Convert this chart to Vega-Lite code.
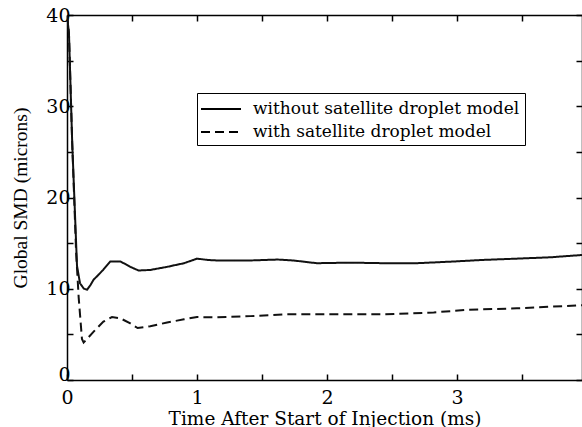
{
  "$schema": "https://vega.github.io/schema/vega-lite/v6.json",
  "autosize": "none",
  "width": 515,
  "height": 365,
  "padding": {"left": 67, "top": 15, "right": 0, "bottom": 47},
  "background": "white",
  "config": {
    "view": {"stroke": null},
    "axis": {
      "domainColor": "black", "domainWidth": 1.5, "tickColor": "black", "tickWidth": 1.5,
      "labelFont": "DejaVu Serif", "labelFontSize": 19, "labelColor": "black",
      "titleFont": "DejaVu Serif", "titleFontSize": 18.5, "titleFontWeight": "normal", "titleColor": "black",
      "grid": false
    }
  },
  "data": {"values": [
    {"t": 0.0, "smd": 40, "series": "without satellite droplet model"},
    {"t": 0.015, "smd": 38, "series": "without satellite droplet model"},
    {"t": 0.04, "smd": 26, "series": "without satellite droplet model"},
    {"t": 0.077, "smd": 12.5, "series": "without satellite droplet model"},
    {"t": 0.1, "smd": 10.6, "series": "without satellite droplet model"},
    {"t": 0.13, "smd": 10.0, "series": "without satellite droplet model"},
    {"t": 0.155, "smd": 9.9, "series": "without satellite droplet model"},
    {"t": 0.18, "smd": 10.4, "series": "without satellite droplet model"},
    {"t": 0.205, "smd": 11.0, "series": "without satellite droplet model"},
    {"t": 0.24, "smd": 11.5, "series": "without satellite droplet model"},
    {"t": 0.28, "smd": 12.1, "series": "without satellite droplet model"},
    {"t": 0.333, "smd": 13.0, "series": "without satellite droplet model"},
    {"t": 0.41, "smd": 13.0, "series": "without satellite droplet model"},
    {"t": 0.487, "smd": 12.4, "series": "without satellite droplet model"},
    {"t": 0.55, "smd": 12.0, "series": "without satellite droplet model"},
    {"t": 0.64, "smd": 12.06, "series": "without satellite droplet model"},
    {"t": 0.77, "smd": 12.4, "series": "without satellite droplet model"},
    {"t": 0.9, "smd": 12.8, "series": "without satellite droplet model"},
    {"t": 1.0, "smd": 13.3, "series": "without satellite droplet model"},
    {"t": 1.08, "smd": 13.16, "series": "without satellite droplet model"},
    {"t": 1.15, "smd": 13.1, "series": "without satellite droplet model"},
    {"t": 1.41, "smd": 13.1, "series": "without satellite droplet model"},
    {"t": 1.62, "smd": 13.2, "series": "without satellite droplet model"},
    {"t": 1.74, "smd": 13.1, "series": "without satellite droplet model"},
    {"t": 1.92, "smd": 12.8, "series": "without satellite droplet model"},
    {"t": 2.18, "smd": 12.86, "series": "without satellite droplet model"},
    {"t": 2.44, "smd": 12.8, "series": "without satellite droplet model"},
    {"t": 2.69, "smd": 12.8, "series": "without satellite droplet model"},
    {"t": 2.95, "smd": 12.97, "series": "without satellite droplet model"},
    {"t": 3.2, "smd": 13.16, "series": "without satellite droplet model"},
    {"t": 3.46, "smd": 13.3, "series": "without satellite droplet model"},
    {"t": 3.72, "smd": 13.45, "series": "without satellite droplet model"},
    {"t": 3.96, "smd": 13.7, "series": "without satellite droplet model"},
    {"t": 0.0, "smd": 40, "series": "with satellite droplet model"},
    {"t": 0.015, "smd": 38, "series": "with satellite droplet model"},
    {"t": 0.04, "smd": 26, "series": "with satellite droplet model"},
    {"t": 0.07, "smd": 14, "series": "with satellite droplet model"},
    {"t": 0.09, "smd": 9, "series": "with satellite droplet model"},
    {"t": 0.115, "smd": 4.5, "series": "with satellite droplet model"},
    {"t": 0.128, "smd": 4.1, "series": "with satellite droplet model"},
    {"t": 0.205, "smd": 5.3, "series": "with satellite droplet model"},
    {"t": 0.28, "smd": 6.4, "series": "with satellite droplet model"},
    {"t": 0.346, "smd": 6.9, "series": "with satellite droplet model"},
    {"t": 0.41, "smd": 6.76, "series": "with satellite droplet model"},
    {"t": 0.487, "smd": 6.2, "series": "with satellite droplet model"},
    {"t": 0.543, "smd": 5.7, "series": "with satellite droplet model"},
    {"t": 0.64, "smd": 5.9, "series": "with satellite droplet model"},
    {"t": 0.77, "smd": 6.3, "series": "with satellite droplet model"},
    {"t": 0.9, "smd": 6.65, "series": "with satellite droplet model"},
    {"t": 1.0, "smd": 6.9, "series": "with satellite droplet model"},
    {"t": 1.15, "smd": 6.87, "series": "with satellite droplet model"},
    {"t": 1.41, "smd": 7.0, "series": "with satellite droplet model"},
    {"t": 1.67, "smd": 7.2, "series": "with satellite droplet model"},
    {"t": 2.0, "smd": 7.2, "series": "with satellite droplet model"},
    {"t": 2.44, "smd": 7.2, "series": "with satellite droplet model"},
    {"t": 2.82, "smd": 7.4, "series": "with satellite droplet model"},
    {"t": 3.08, "smd": 7.7, "series": "with satellite droplet model"},
    {"t": 3.46, "smd": 7.85, "series": "with satellite droplet model"},
    {"t": 3.96, "smd": 8.2, "series": "with satellite droplet model"}
  ]},
  "resolve": {"axis": {"x": "independent", "y": "independent"}},
  "layer": [
    {
      "mark": {"type": "line", "color": "#111", "strokeWidth": 2, "clip": true},
      "encoding": {
        "x": {"field": "t", "type": "quantitative", "scale": {"domain": [0, 3.96], "nice": false, "zero": false},
          "axis": {"orient": "bottom", "title": "Time After Start of Injection (ms)", "values": [0, 0.5, 1, 1.5, 2, 2.5, 3, 3.5],
            "labelExpr": "datum.value % 1 === 0 ? format(datum.value, 'd') : ''", "tickSize": -6, "labelPadding": 14, "titlePadding": 2, "labelFlush": false, "labelOverlap": false}},
        "y": {"field": "smd", "type": "quantitative", "scale": {"domain": [0, 40], "nice": false},
          "axis": {"orient": "left", "title": "Global SMD (microns)", "titleFont": "Liberation Serif", "titleFontSize": 19.5, "values": [0, 5, 10, 15, 20, 25, 30, 35, 40],
            "labelExpr": "datum.value % 10 === 0 ? datum.label : ''",
            "labelBaseline": {"condition": {"test": "datum.value === 0", "value": "alphabetic"}, "value": "middle"},
            "tickSize": -6, "labelPadding": 3, "titlePadding": 15, "labelFlush": false, "labelOverlap": false}},
        "strokeDash": {"field": "series", "type": "nominal",
          "scale": {"domain": ["without satellite droplet model", "with satellite droplet model"], "range": [[1, 0], [9, 5]]},
          "legend": {"orient": "none", "legendX": 130, "legendY": 78, "title": null,
            "strokeColor": "black", "fillColor": "white", "padding": 5,
            "symbolType": "M-2,0H2", "symbolSize": 400, "symbolStrokeWidth": 2, "symbolStrokeColor": "black", "symbolOffset": 8,
            "labelFont": "DejaVu Serif", "labelFontSize": 17, "labelColor": "black", "labelOffset": 21, "rowPadding": 4, "labelLimit": 400}}
      }
    },
    {
      "mark": {"type": "line", "strokeOpacity": 0},
      "encoding": {
        "x": {"field": "t", "type": "quantitative", "axis": {"orient": "top", "title": null, "labels": false, "values": [0, 0.5, 1, 1.5, 2, 2.5, 3, 3.5], "tickSize": -6}},
        "y": {"field": "smd", "type": "quantitative", "axis": {"orient": "right", "title": null, "labels": false, "values": [0, 5, 10, 15, 20, 25, 30, 35, 40], "tickSize": -6}}
      }
    }
  ]
}
